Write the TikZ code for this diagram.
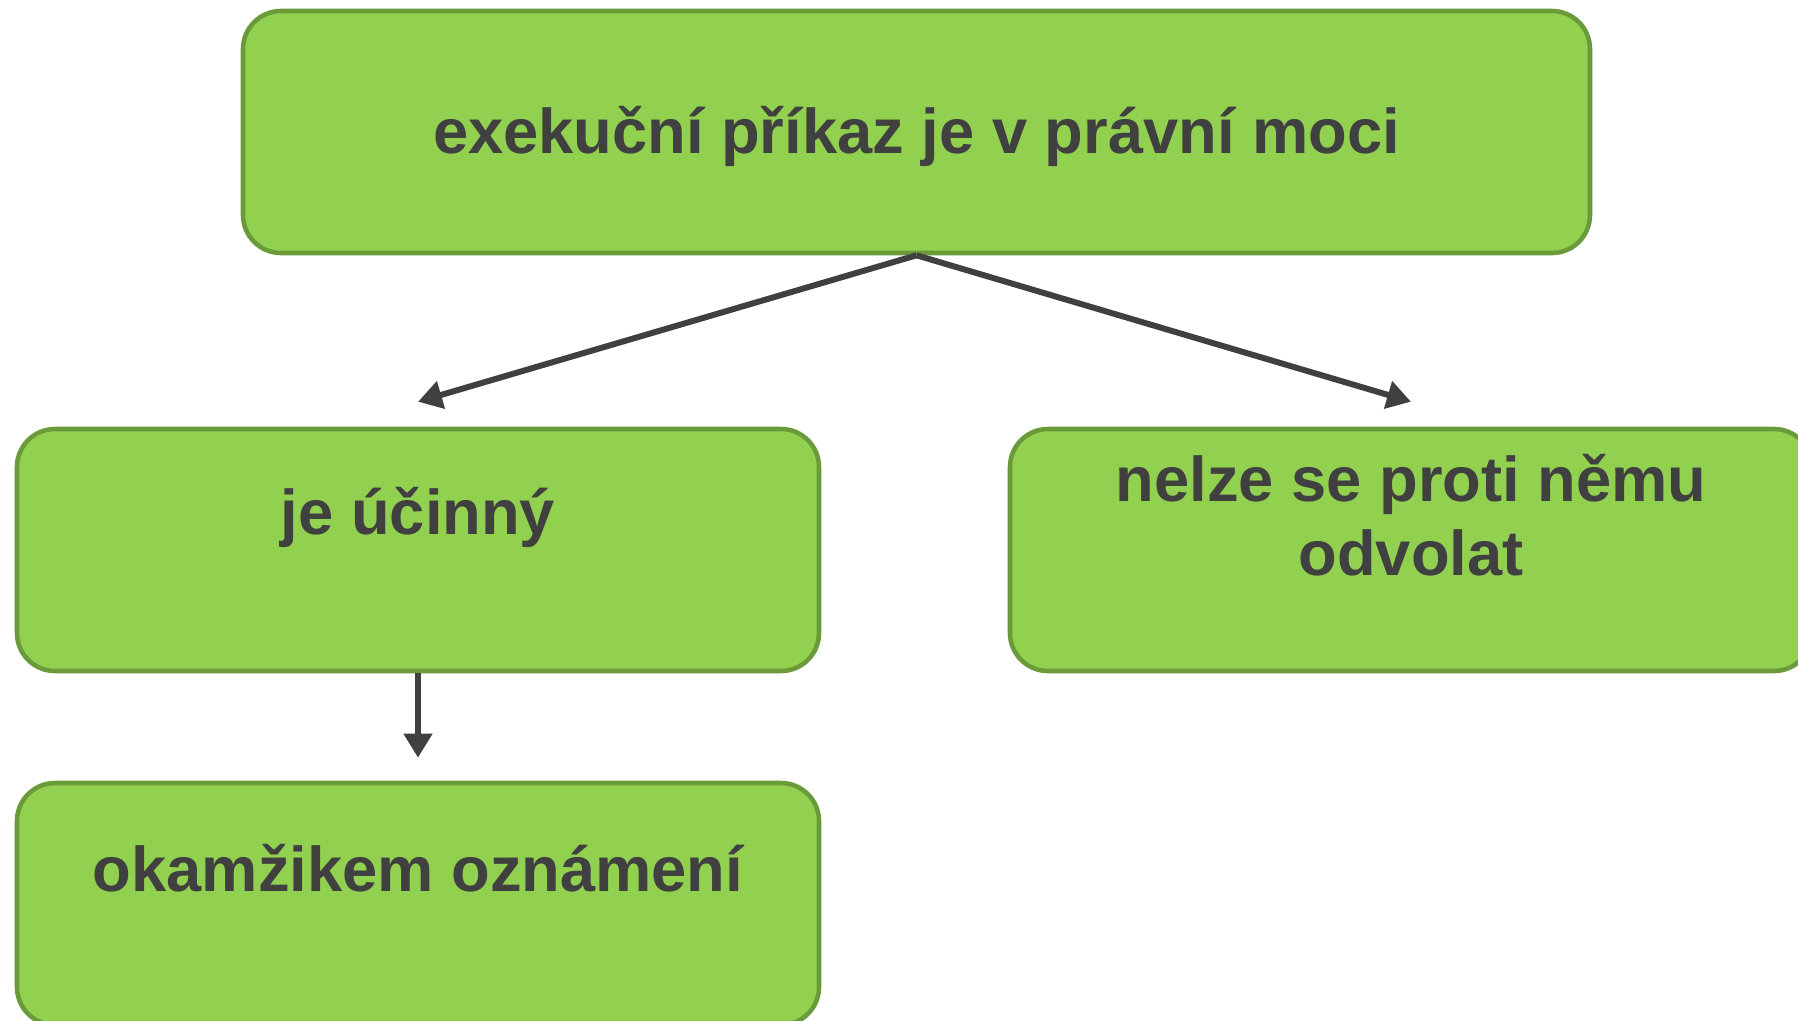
\documentclass[tikz,border=0pt]{standalone}
\usepackage{fontspec}
\setmainfont{Liberation Sans}
\usetikzlibrary{arrows.meta,positioning}
\definecolor{boxgreen}{HTML}{92D050}
\definecolor{boxedge}{HTML}{6A9A3A}
\definecolor{inkgray}{HTML}{404040}

\begin{document}
\begin{tikzpicture}[
    box/.style={draw=boxedge, line width=2.6pt, fill=boxgreen, rounded corners=0.76cm,
        minimum height=4.84cm, inner sep=0pt},
    label/.style={text=inkgray, font=\fontsize{36}{42}\selectfont\bfseries, align=center},
    link/.style={draw=inkgray, line width=3.4pt, -{Triangle[length=0.48cm, width=0.55cm]}}
]
    % Page
    \useasboundingbox (0,0) rectangle (35.96,-20.4);

    % Boxes
    \node[box, minimum width=26.94cm] (top) at (18.33,-2.64) {};
    \node[box, minimum width=16.04cm] (left) at (8.36,-11.0) {};
    \node[box, minimum width=16.04cm] (right) at (28.22,-11.0) {};
    \node[box, minimum width=16.04cm] (bottom) at (8.36,-18.08) {};

    % Texts
    \node[label] (toptext) at ([yshift=-0.08cm]top.center) {exekuční příkaz je v právní moci};
    \node[label] (lefttext) at ([yshift=0.66cm]left.center) {je účinný};
    \node[label] (righttext) at ([yshift=0.7cm]right.center) {nelze se proti němu\\odvolat};
    \node[label] (bottomtext) at ([yshift=0.72cm]bottom.center) {okamžikem oznámení};

    % Arrows
    \draw[link] (top.south) -- ([yshift=0.5cm]left.north);
    \draw[link] (top.south) -- ([yshift=0.5cm]right.north);
    \draw[link, shorten >=0.46cm] (left.south) -- (bottom.north);
\end{tikzpicture}
\end{document}
